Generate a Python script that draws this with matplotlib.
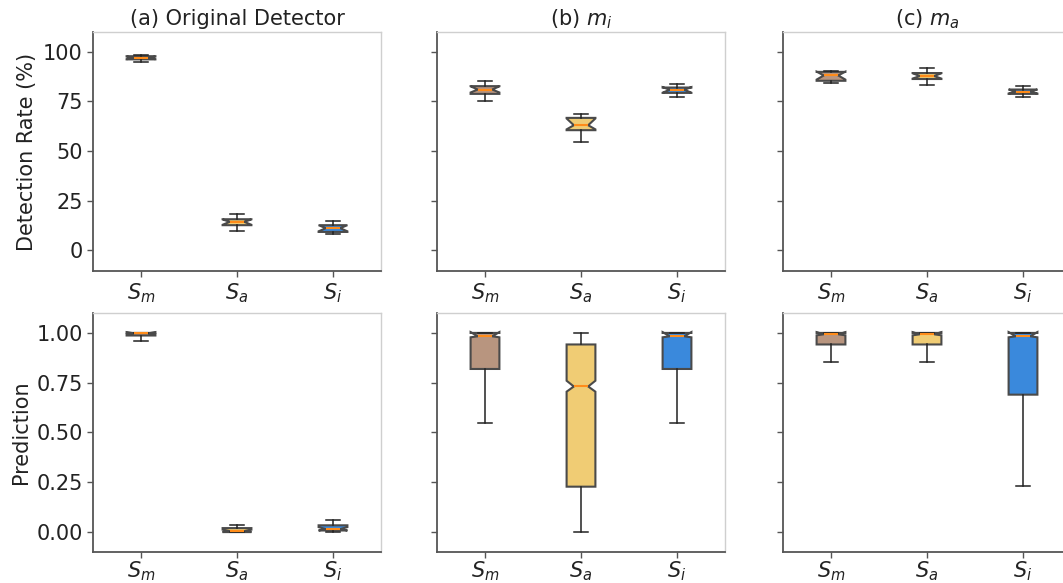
import matplotlib
matplotlib.use("Agg")
import matplotlib.pyplot as plt

# ---------------- data ----------------
panel_titles = ["(a) Original Detector", "(b) $m_i$", "(c) $m_a$"]
categories = ["$S_m$", "$S_a$", "$S_i$"]
box_colors = ["#b8957f", "#f0cc74", "#3a89dc"]

# Detection rate (%) : one row per panel, one value per category (Sm, Sa, Si)
rate_whislo = [[94.8, 9.7, 8.2], [75.0, 54.5, 77.2], [84.4, 83.2, 77.2]]
rate_q1     = [[96.2, 12.6, 9.2], [78.8, 60.5, 79.3], [85.4, 86.3, 78.8]]
rate_med    = [[96.9, 14.3, 11.1], [81.0, 63.0, 80.9], [88.1, 87.8, 80.0]]
rate_q3     = [[97.8, 15.6, 12.6], [82.7, 66.7, 82.0], [89.9, 89.3, 81.0]]
rate_whishi = [[98.2, 18.2, 14.5], [85.1, 68.9, 83.9], [90.2, 91.6, 82.7]]
rate_cilo   = [[96.3, 12.8, 9.5], [79.5, 60.9, 79.4], [86.0, 86.5, 79.0]]
rate_cihi   = [[97.6, 15.5, 12.6], [82.6, 66.4, 82.2], [90.0, 89.2, 81.0]]

# Prediction
pred_whislo = [[0.960, 0.000, 0.000], [0.548, 0.000, 0.548], [0.853, 0.853, 0.231]]
pred_q1     = [[0.987, 0.000, 0.008], [0.819, 0.228, 0.819], [0.942, 0.942, 0.690]]
pred_med    = [[0.998, 0.005, 0.015], [0.983, 0.731, 0.983], [0.993, 0.993, 0.983]]
pred_q3     = [[1.000, 0.020, 0.034], [1.000, 0.942, 1.000], [1.000, 1.000, 1.000]]
pred_whishi = [[1.000, 0.034, 0.059], [1.000, 1.000, 1.000], [1.000, 1.000, 1.000]]
pred_cilo   = [[0.992, 0.000, 0.008], [0.978, 0.705, 0.978], [0.988, 0.988, 0.978]]
pred_cihi   = [[1.004, 0.012, 0.025], [1.004, 0.760, 1.004], [1.004, 1.004, 1.004]]

rate_ticks = [0, 25, 50, 75, 100]
pred_ticks = [0.0, 0.25, 0.50, 0.75, 1.0]
pred_ticklabels = ["0.00", "0.25", "0.50", "0.75", "1.00"]

# ---------------- figure ----------------
W, H = 1063, 583
fig = plt.figure(figsize=(W / 100, H / 100), dpi=100)
plt.rcParams["font.family"] = ["DejaVu Sans"]
FS = 15
TXT = "#222222"

lefts = [93, 437, 783]
axw = 288
rows = [(32, 271), (313, 552)]


def make_stats(lo, q1, med, q3, hi, cl, ch):
    return [dict(whislo=lo[k], q1=q1[k], med=med[k], q3=q3[k], whishi=hi[k],
                 cilo=cl[k], cihi=ch[k], fliers=[]) for k in range(len(q1))]


def style_axes(ax, xpad):
    for s in ["top", "right"]:
        ax.spines[s].set_color("#cfcfcf")
        ax.spines[s].set_linewidth(1.0)
    for s in ["left", "bottom"]:
        ax.spines[s].set_color("#555555")
        ax.spines[s].set_linewidth(1.3)
    ax.tick_params(axis="both", length=4, width=1.0, color="#555555",
                   labelsize=FS, labelcolor=TXT)
    ax.tick_params(axis="y", pad=3.5)
    ax.tick_params(axis="x", pad=xpad)


for r, (top, bot) in enumerate(rows):
    for p in range(3):
        ax = fig.add_axes([lefts[p] / W, 1 - bot / H, axw / W, (bot - top) / H])
        if r == 0:
            st = make_stats(rate_whislo[p], rate_q1[p], rate_med[p], rate_q3[p],
                            rate_whishi[p], rate_cilo[p], rate_cihi[p])
        else:
            st = make_stats(pred_whislo[p], pred_q1[p], pred_med[p], pred_q3[p],
                            pred_whishi[p], pred_cilo[p], pred_cihi[p])
        bp = ax.bxp(st, positions=[1, 2, 3], widths=0.3, shownotches=True,
                    patch_artist=True, showfliers=False,
                    boxprops=dict(edgecolor="#4a4a4a", linewidth=1.5),
                    medianprops=dict(color="#ff8c1a", linewidth=1.5),
                    whiskerprops=dict(color="#222222", linewidth=1.1),
                    capprops=dict(color="#222222", linewidth=1.1))
        for patch, c in zip(bp["boxes"], box_colors):
            patch.set_facecolor(c)
        ax.set_xlim(0.5, 3.5)
        ax.set_xticks([1, 2, 3])
        ax.set_xticklabels(categories)
        if r == 0:
            ax.set_ylim(-10.5, 110)
            ax.set_yticks(rate_ticks)
            ax.set_title(panel_titles[p], fontsize=FS, color=TXT, pad=5)
        else:
            ax.set_ylim(-0.1, 1.1)
            ax.set_yticks(pred_ticks)
            ax.set_yticklabels(pred_ticklabels)
        style_axes(ax, 3.5 if r == 0 else 1.5)
        if p > 0:
            ax.tick_params(axis="y", labelleft=False)
        else:
            ax.set_ylabel("Detection Rate (%)" if r == 0 else "Prediction",
                          fontsize=FS, color=TXT)

fig.savefig("out.png", dpi=100)
